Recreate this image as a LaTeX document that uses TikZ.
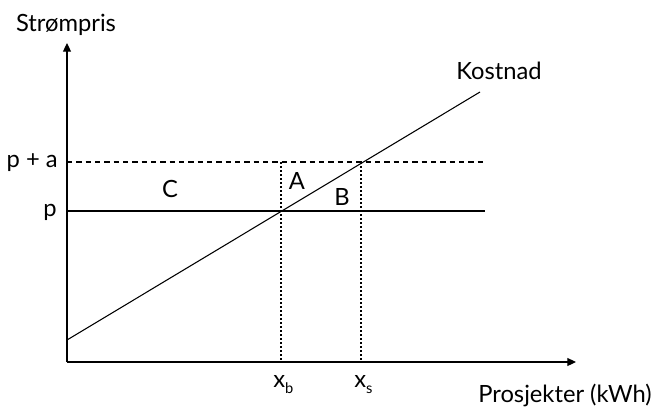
\documentclass[tikz,border=0pt]{standalone}
\usepackage{fontspec}
\setmainfont{Lato}
\usepackage{tikz}
\usetikzlibrary{arrows.meta, positioning}

\tikzset{
  akse/.style={line width=0.8pt, -{Triangle[length=6.5pt,width=6pt]}},
  linje/.style={line width=0.8pt},
  stiplet/.style={dash pattern=on 4pt off 3pt},
  prikket/.style={line width=1.8pt, dash pattern=on 1.4pt off 1.6pt},
  etikett/.style={inner sep=0pt, font=\fontsize{17.8}{20}\selectfont}
}
\newcommand{\senket}[1]{\raisebox{-4.5pt}{\fontsize{11}{12}\selectfont #1}}

\begin{document}
\begin{tikzpicture}[x=0.75pt,y=-0.75pt]
  \useasboundingbox (0,0) rectangle (656,408);

  % akser
  \coordinate (origo) at (67,362);
  \coordinate (ytopp) at (67,43);
  \coordinate (xende) at (576,362);
  \draw[akse] (origo) -- (ytopp);
  \draw[akse] (origo) -- (xende);

  % prisnivaer p og p + a
  \coordinate (p0) at (67,211);
  \coordinate (p1) at (485,211);
  \coordinate (pa0) at (67,162);
  \coordinate (pa1) at (485,162);
  \draw[linje] (p0) -- (p1);
  \draw[linje, stiplet] (pa0) -- (pa1);

  % kostnadskurve
  \coordinate (k0) at (67,340);
  \coordinate (k1) at (480,92);
  \draw[linje] (k0) -- (k1);

  % x_b og x_s
  \coordinate (xb0) at (281,162);
  \coordinate (xb1) at (281,362);
  \coordinate (xs0) at (361,162);
  \coordinate (xs1) at (361,362);
  \draw[prikket] (xb0) -- (xb1);
  \draw[prikket] (xs0) -- (xs1);

  % tekster
  \node[etikett] (strompris) at (66,25) {Strømpris};
  \node[etikett] (kostnad) at (499,71) {Kostnad};
  \node[etikett, anchor=east] (pa) at (58,163) {p + a};
  \node[etikett, anchor=east] (p) at (57,212) {p};
  \node[etikett] (C) at (170,189) {C};
  \node[etikett] (A) at (297,181) {A};
  \node[etikett] (B) at (342,197) {B};
  \node[etikett, anchor=base west] (xb) at (273,387) {x\senket{b}};
  \node[etikett, anchor=base west] (xs) at (354,387) {x\senket{s}};
  \node[etikett, anchor=east] (prosjekter) at (652,395) {Prosjekter (kWh)};
\end{tikzpicture}
\end{document}
